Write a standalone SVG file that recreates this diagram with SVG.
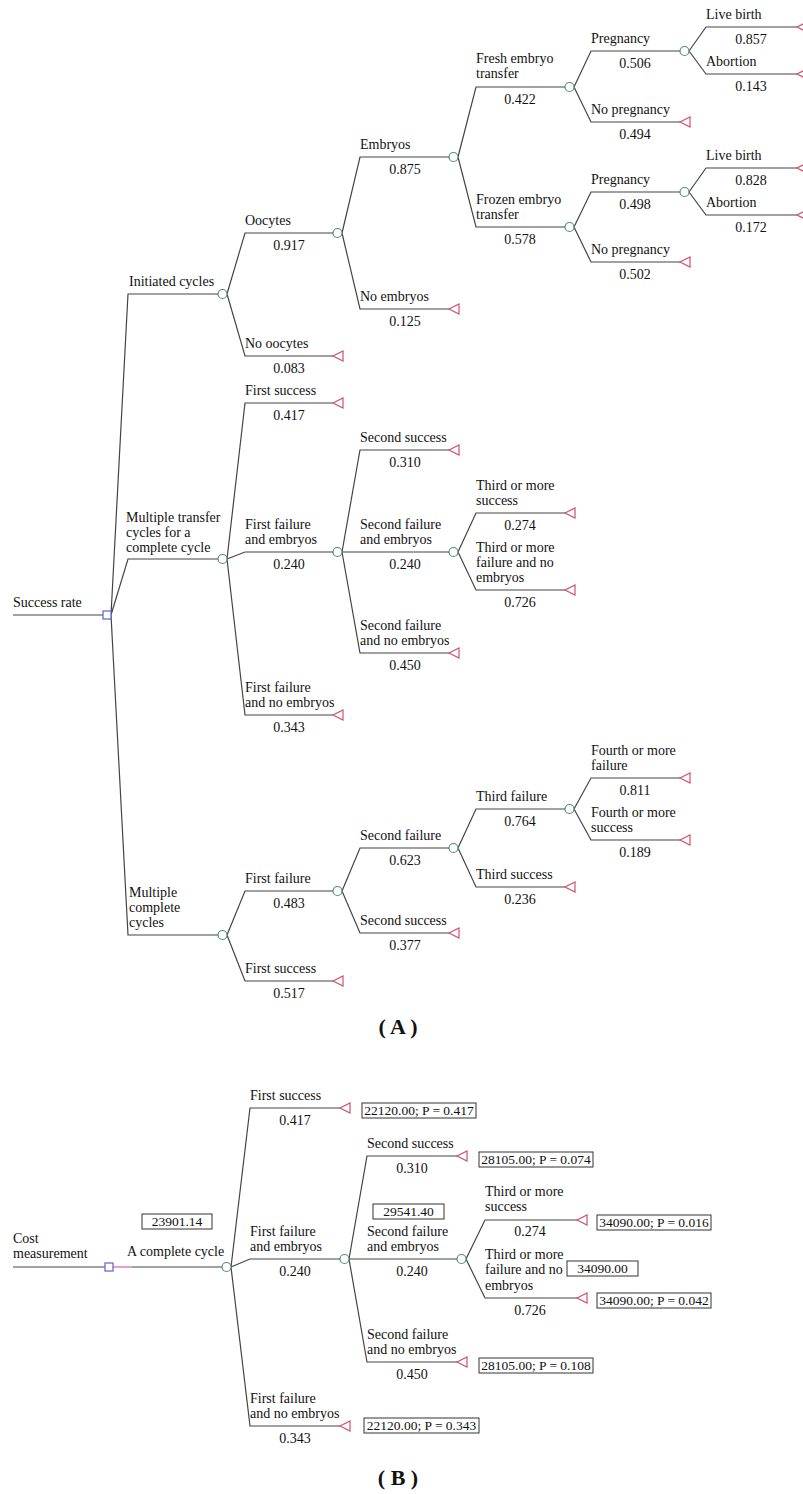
<svg xmlns="http://www.w3.org/2000/svg" width="803" height="1494" viewBox="0 0 803 1494">
<style>
text{font-family:"Liberation Serif","Times New Roman",serif;font-size:14px;fill:#111}
.p{text-anchor:middle}
.bx{font-size:13.5px;text-anchor:middle}
.ttl{font-size:22px;font-weight:bold;text-anchor:middle}
.ln{fill:none;stroke:#444;stroke-width:1.2}
.ch{fill:#fff;stroke:#4f8f78;stroke-width:1.2}
.tm{fill:#fff;stroke:#d0506a;stroke-width:1.2}
.dc{fill:#fff;stroke:#5566c8;stroke-width:1.2}
.box{fill:#fff;stroke:#333;stroke-width:1}
</style>
<defs>
<polygon id="tri" class="tm" points="0,0 10,-5 10,5"/>
<circle id="cir" class="ch" r="4.5"/>
</defs>
<g id="connectors">
<path class="ln" d="M13,615H103
M111,615L128,294H218 M111,615L128,559H218 M111,615L128,935H218
M227,294L245,233H333 M227,294L245,356H333
M227,559L245,403H333 M227,559L245,552H333 M227,559L245,715H333
M227,935L245,891H333 M227,935L245,981H333
M342,233L360,157H449 M342,233L360,309H449
M342,552L360,450H449 M342,552L360,552H449 M342,552L360,653H449
M342,891L360,848H449 M342,891L360,933H449
M458,157L476,87H565 M458,157L476,227H565
M458,552L476,513H565 M458,552L476,590H565
M458,848L476,809H565 M458,848L476,887H565
M574,87L591,51H680 M574,87L591,122H680
M574,227L591,192H680 M574,227L591,262H680
M574,809L591,778H680 M574,809L591,840H680
M689,51L706,27H797 M689,51L706,74H797
M689,192L706,168H797 M689,192L706,215H797
M13,1267H105 M132,1267H222
M231,1267L250,1108H340 M231,1267L250,1259H340 M231,1267L250,1426H340
M349,1259L367,1156H457 M349,1259L367,1259H457 M349,1259L367,1362H457
M466,1259L485,1220H577 M466,1259L485,1298H577"/>
<path d="M113,1267H132" fill="none" stroke="#e08ac8" stroke-width="1.6"/>
</g>

<!-- ===== Part A ===== -->
<g id="a_root"><text x="13" y="607">Success rate</text><rect class="dc" x="103" y="611" width="8" height="8"/></g>

<g id="a_init"><text x="129" y="286">Initiated cycles</text><use href="#cir" x="222.5" y="294"/></g>
<g id="a_mtc"><text x="126" y="522">Multiple transfer</text><text x="126" y="537">cycles for a</text><text x="126" y="552">complete cycle</text><use href="#cir" x="222.5" y="559"/></g>
<g id="a_mcc"><text x="129" y="897">Multiple</text><text x="129" y="912">complete</text><text x="129" y="927">cycles</text><use href="#cir" x="222.5" y="935"/></g>

<g id="a_oocytes"><text x="245" y="225">Oocytes</text><text class="p" x="289" y="250">0.917</text><use href="#cir" x="337.5" y="233"/></g>
<g id="a_nooocytes"><text x="245" y="348">No oocytes</text><text class="p" x="289" y="373">0.083</text><use href="#tri" x="333" y="356"/></g>
<g id="a_fs1"><text x="245" y="395">First success</text><text class="p" x="289" y="420">0.417</text><use href="#tri" x="333" y="403"/></g>
<g id="a_ffe1"><text x="245" y="529">First failure</text><text x="245" y="544">and embryos</text><text class="p" x="289" y="569">0.240</text><use href="#cir" x="337.5" y="552"/></g>
<g id="a_ffn1"><text x="245" y="692">First failure</text><text x="245" y="707">and no embryos</text><text class="p" x="289" y="732">0.343</text><use href="#tri" x="333" y="715"/></g>
<g id="a_ff2"><text x="245" y="883">First failure</text><text class="p" x="289" y="908">0.483</text><use href="#cir" x="337.5" y="891"/></g>
<g id="a_fs2"><text x="245" y="973">First success</text><text class="p" x="289" y="998">0.517</text><use href="#tri" x="333" y="981"/></g>

<g id="a_embryos"><text x="360" y="149">Embryos</text><text class="p" x="405" y="174">0.875</text><use href="#cir" x="453.5" y="157"/></g>
<g id="a_noemb"><text x="360" y="301">No embryos</text><text class="p" x="405" y="326">0.125</text><use href="#tri" x="449" y="309"/></g>
<g id="a_ss1"><text x="360" y="442">Second success</text><text class="p" x="405" y="467">0.310</text><use href="#tri" x="449" y="450"/></g>
<g id="a_sfe1"><text x="360" y="529">Second failure</text><text x="360" y="544">and embryos</text><text class="p" x="405" y="569">0.240</text><use href="#cir" x="453.5" y="552"/></g>
<g id="a_sfn1"><text x="360" y="630">Second failure</text><text x="360" y="645">and no embryos</text><text class="p" x="405" y="670">0.450</text><use href="#tri" x="449" y="653"/></g>
<g id="a_sf2"><text x="360" y="840">Second failure</text><text class="p" x="405" y="865">0.623</text><use href="#cir" x="453.5" y="848"/></g>
<g id="a_ss2"><text x="360" y="925">Second success</text><text class="p" x="405" y="950">0.377</text><use href="#tri" x="449" y="933"/></g>

<g id="a_fresh"><text x="476" y="63">Fresh embryo</text><text x="476" y="78">transfer</text><text class="p" x="520" y="104">0.422</text><use href="#cir" x="569.5" y="87"/></g>
<g id="a_frozen"><text x="476" y="204">Frozen embryo</text><text x="476" y="219">transfer</text><text class="p" x="520" y="244">0.578</text><use href="#cir" x="569.5" y="227"/></g>
<g id="a_tms1"><text x="476" y="490">Third or more</text><text x="476" y="505">success</text><text class="p" x="520" y="530">0.274</text><use href="#tri" x="565" y="513"/></g>
<g id="a_tmf1"><text x="476" y="552">Third or more</text><text x="476" y="567">failure and no</text><text x="476" y="582">embryos</text><text class="p" x="520" y="607">0.726</text><use href="#tri" x="565" y="590"/></g>
<g id="a_tf"><text x="476" y="801">Third failure</text><text class="p" x="520" y="826">0.764</text><use href="#cir" x="569.5" y="809"/></g>
<g id="a_ts"><text x="476" y="879">Third success</text><text class="p" x="520" y="904">0.236</text><use href="#tri" x="565" y="887"/></g>

<g id="a_preg1"><text x="591" y="43">Pregnancy</text><text class="p" x="635" y="68">0.506</text><use href="#cir" x="684.5" y="51"/></g>
<g id="a_nopreg1"><text x="591" y="114">No pregnancy</text><text class="p" x="635" y="139">0.494</text><use href="#tri" x="680" y="122"/></g>
<g id="a_preg2"><text x="591" y="184">Pregnancy</text><text class="p" x="635" y="209">0.498</text><use href="#cir" x="684.5" y="192"/></g>
<g id="a_nopreg2"><text x="591" y="254">No pregnancy</text><text class="p" x="635" y="279">0.502</text><use href="#tri" x="680" y="262"/></g>
<g id="a_fmf"><text x="591" y="755">Fourth or more</text><text x="591" y="770">failure</text><text class="p" x="635" y="795">0.811</text><use href="#tri" x="680" y="778"/></g>
<g id="a_fms"><text x="591" y="817">Fourth or more</text><text x="591" y="832">success</text><text class="p" x="635" y="857">0.189</text><use href="#tri" x="680" y="840"/></g>

<g id="a_lb1"><text x="706" y="19">Live birth</text><text class="p" x="751" y="44">0.857</text><use href="#tri" x="797" y="27"/></g>
<g id="a_ab1"><text x="706" y="66">Abortion</text><text class="p" x="751" y="91">0.143</text><use href="#tri" x="797" y="74"/></g>
<g id="a_lb2"><text x="706" y="160">Live birth</text><text class="p" x="751" y="185">0.828</text><use href="#tri" x="797" y="168"/></g>
<g id="a_ab2"><text x="706" y="207">Abortion</text><text class="p" x="751" y="232">0.172</text><use href="#tri" x="797" y="215"/></g>

<text class="ttl" x="398" y="1034">( A )</text>

<!-- ===== Part B ===== -->
<g id="b_root"><text x="13" y="1243">Cost</text><text x="13" y="1258">measurement</text><rect class="dc" x="105" y="1263" width="8" height="8"/></g>
<g id="b_cycle"><rect class="box" x="142" y="1214" width="70" height="15"/><text class="bx" x="177" y="1226">23901.14</text><text x="127" y="1256">A complete cycle</text><use href="#cir" x="226.5" y="1267"/></g>

<g id="b_fs"><text x="250" y="1100">First success</text><text class="p" x="295" y="1125">0.417</text><use href="#tri" x="340" y="1108"/><rect class="box" x="362" y="1103" width="114" height="15"/><text class="bx" x="419" y="1115">22120.00; P = 0.417</text></g>
<g id="b_ffe"><text x="250" y="1236">First failure</text><text x="250" y="1251">and embryos</text><text class="p" x="295" y="1276">0.240</text><use href="#cir" x="344.5" y="1259"/></g>
<g id="b_ffn"><text x="250" y="1403">First failure</text><text x="250" y="1418">and no embryos</text><text class="p" x="295" y="1443">0.343</text><use href="#tri" x="340" y="1426"/><rect class="box" x="364" y="1418" width="115" height="15"/><text class="bx" x="421.5" y="1430">22120.00; P = 0.343</text></g>

<g id="b_ss"><text x="367" y="1148">Second success</text><text class="p" x="412" y="1173">0.310</text><use href="#tri" x="457" y="1156"/><rect class="box" x="479" y="1152" width="114" height="15"/><text class="bx" x="536" y="1164">28105.00; P = 0.074</text></g>
<g id="b_sfe"><rect class="box" x="373" y="1204" width="71" height="15"/><text class="bx" x="408.5" y="1216">29541.40</text><text x="367" y="1236">Second failure</text><text x="367" y="1251">and embryos</text><text class="p" x="412" y="1276">0.240</text><use href="#cir" x="461.5" y="1259"/></g>
<g id="b_sfn"><text x="367" y="1339">Second failure</text><text x="367" y="1354">and no embryos</text><text class="p" x="412" y="1379">0.450</text><use href="#tri" x="457" y="1362"/><rect class="box" x="479" y="1358" width="114" height="15"/><text class="bx" x="536" y="1370">28105.00; P = 0.108</text></g>

<g id="b_tms"><text x="485" y="1196">Third or more</text><text x="485" y="1211">success</text><text class="p" x="530" y="1236">0.274</text><use href="#tri" x="577" y="1220"/><rect class="box" x="597" y="1215" width="114" height="15"/><text class="bx" x="654" y="1227">34090.00; P = 0.016</text></g>
<g id="b_tmf"><text x="485" y="1259">Third or more</text><text x="485" y="1274">failure and no</text><text x="485" y="1290">embryos</text><text class="p" x="530" y="1315">0.726</text><use href="#tri" x="577" y="1298"/><rect class="box" x="567" y="1261" width="71" height="15"/><text class="bx" x="602.5" y="1273">34090.00</text><rect class="box" x="597" y="1293" width="114" height="15"/><text class="bx" x="654" y="1305">34090.00; P = 0.042</text></g>

<text class="ttl" x="398" y="1485">( B )</text>
</svg>
